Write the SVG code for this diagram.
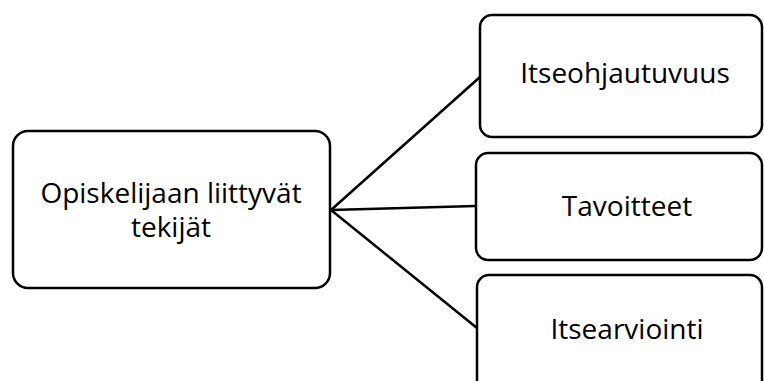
<svg xmlns="http://www.w3.org/2000/svg" width="764" height="381" viewBox="0 0 764 381">
  <style>
    .box { fill: #ffffff; stroke: #000000; stroke-width: 2.5; }
    .link { stroke: #000000; stroke-width: 2.5; fill: none; }
    .label { font-family: "Open Sans", "Noto Sans", "Liberation Sans", sans-serif; font-size: 28px; fill: #000000; text-anchor: middle; }
  </style>
  <rect width="764" height="381" fill="#ffffff"/>
  <g id="connectors">
    <line class="link" x1="331" y1="210" x2="480" y2="77"/>
    <line class="link" x1="331" y1="210" x2="476" y2="206"/>
    <line class="link" x1="331" y1="210" x2="477" y2="328"/>
  </g>
  <g id="node-student">
    <rect class="box" x="13" y="131" width="317" height="157" rx="15" ry="15"/>
    <text class="label" x="171" y="202.5">Opiskelijaan liittyvät</text>
    <text class="label" x="171" y="236.5">tekijät</text>
  </g>
  <g id="node-selfdirection">
    <rect class="box" x="480" y="15" width="282" height="122" rx="12" ry="12"/>
    <text class="label" x="625" y="83">Itseohjautuvuus</text>
  </g>
  <g id="node-goals">
    <rect class="box" x="476" y="153" width="286" height="107" rx="12" ry="12"/>
    <text class="label" x="627" y="216">Tavoitteet</text>
  </g>
  <g id="node-selfassessment">
    <rect class="box" x="477" y="275" width="285" height="120" rx="12" ry="12"/>
    <text class="label" x="627" y="339">Itsearviointi</text>
  </g>
</svg>
